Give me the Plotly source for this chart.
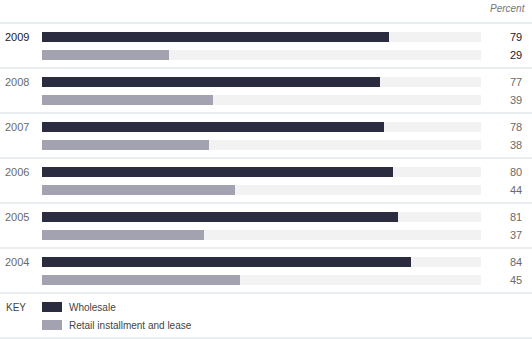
import plotly.graph_objects as go

years = ["2009", "2008", "2007", "2006", "2005", "2004"]
wholesale = [79, 77, 78, 80, 81, 84]
retail = [29, 39, 38, 44, 37, 45]
series_names = ["Wholesale", "Retail installment and lease"]

W, H = 532, 339
TOP = 23
ROW = 45
X0, X1 = 42, 481
C_WH = "#2b2c40"
C_RE = "#a3a2b0"
C_TRACK = "#f2f2f2"
C_LINE = "#d6dde3"
FONT = "Liberation Sans, Arial, sans-serif"

y_wh = [TOP + ROW * i + 14 for i in range(len(years))]
y_re = [TOP + ROW * i + 32 for i in range(len(years))]

fig = go.Figure()
fig.add_trace(go.Bar(x=[100] * len(years) * 2, y=y_wh + y_re, orientation="h",
                     width=10, marker=dict(color=C_TRACK, line=dict(width=0)),
                     hoverinfo="skip", showlegend=False))
fig.add_trace(go.Bar(x=wholesale, y=y_wh, orientation="h", width=10,
                     marker=dict(color=C_WH, line=dict(width=0)), name=series_names[0], showlegend=False))
fig.add_trace(go.Bar(x=retail, y=y_re, orientation="h", width=10,
                     marker=dict(color=C_RE, line=dict(width=0)), name=series_names[1], showlegend=False))

shapes = []
for i in range(len(years) + 2):
    yy = TOP + ROW * i
    shapes.append(dict(type="line", xref="paper", yref="y", x0=0, x1=1, y0=yy, y1=yy,
                       line=dict(color=C_LINE, width=1)))

annotations = []
for i, yr in enumerate(years):
    first = i == 0
    col = "#1a1a28" if first else "#6a6a6a"
    annotations.append(dict(x=3 / W, xref="paper", y=y_wh[i], yref="y", text=yr, showarrow=False,
                            xanchor="left", yanchor="middle", font=dict(size=11, color=col, family=FONT)))
    for yv, v in ((y_wh[i], wholesale[i]), (y_re[i], retail[i])):
        annotations.append(dict(x=524 / W, xref="paper", y=yv, yref="y", text=str(v), showarrow=False,
                                xanchor="right", yanchor="middle", font=dict(size=11, color=col, family=FONT)))

annotations.append(dict(x=528 / W, xref="paper", y=8, yref="y", text="<i>Percent</i>", showarrow=False,
                        xanchor="right", yanchor="middle", font=dict(size=10, color="#777777", family=FONT)))

key_top = TOP + ROW * len(years)
annotations.append(dict(x=4 / W, xref="paper", y=key_top + 14, yref="y", text="KEY", showarrow=False,
                        xanchor="left", yanchor="middle", font=dict(size=10, color="#444444", family=FONT)))
for j, (nm, c) in enumerate(zip(series_names, (C_WH, C_RE))):
    yc = key_top + 14 + 18 * j
    shapes.append(dict(type="rect", xref="paper", yref="y", x0=42 / W, x1=62 / W, y0=yc - 5, y1=yc + 5,
                       fillcolor=c, line=dict(width=0)))
    annotations.append(dict(x=67 / W, xref="paper", y=yc, yref="y", text=nm, showarrow=False,
                            xanchor="left", yanchor="middle", font=dict(size=10, color="#444444", family=FONT)))

fig.update_layout(
    width=W, height=H, margin=dict(l=0, r=0, t=0, b=0),
    paper_bgcolor="white", plot_bgcolor="white",
    barmode="overlay", bargap=0,
    xaxis=dict(domain=[X0 / W, X1 / W], range=[0, 100], visible=False, fixedrange=True),
    yaxis=dict(domain=[0, 1], range=[H, 0], visible=False, fixedrange=True),
    shapes=shapes, annotations=annotations, showlegend=False,
)
fig.write_html("out.html")
